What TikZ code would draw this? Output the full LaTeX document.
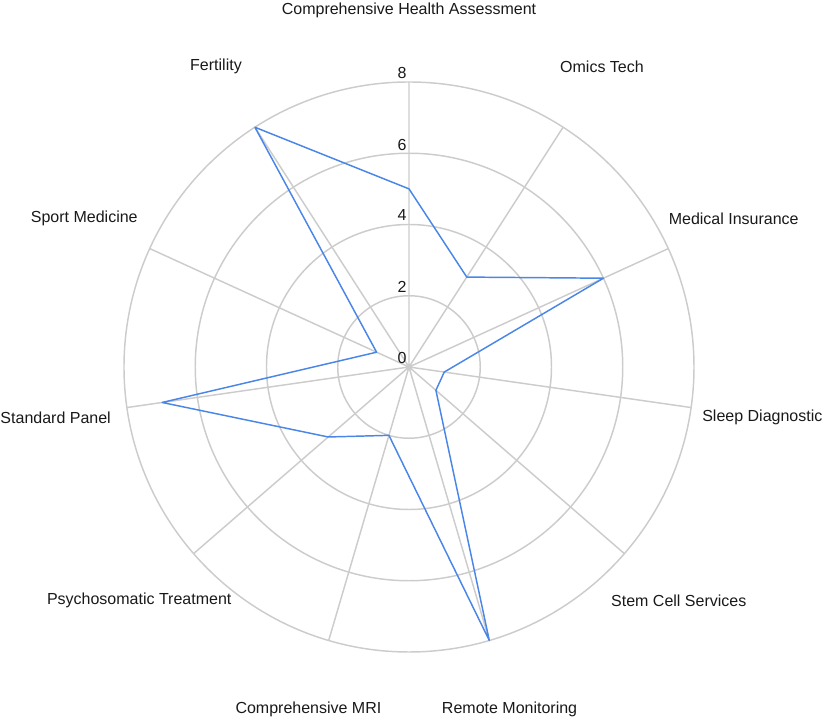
\documentclass[tikz,border=0pt]{standalone}
\usepackage{fontspec}
\setmainfont{Liberation Sans}
\usepackage{tikz}
\usetikzlibrary{positioning}

\definecolor{gridgray}{HTML}{CCCCCC}
\definecolor{serieblue}{HTML}{4A86E8}

\begin{document}
\begin{tikzpicture}[
    x=0.75pt, y=0.75pt,
    grid/.style={draw=gridgray, line width=1.1pt},
    axislabel/.style={font=\fontsize{12}{14}\selectfont, text=black!90, inner sep=0pt},
    ticklabel/.style={font=\fontsize{12}{14}\selectfont, text=black!90, inner sep=0pt},
    serie/.style={draw=serieblue, line width=1.1pt, line join=round},
]
    \useasboundingbox (-409,-353) rectangle (417,367);

    % grid
    \coordinate (c) at (0,0);
    \draw[grid] (c) circle (71.25);
    \draw[grid] (c) circle (142.5);
    \draw[grid] (c) circle (213.75);
    \draw[grid] (c) circle (285);
    \coordinate (o0) at (90:285);
    \coordinate (o1) at (57.273:285);
    \coordinate (o2) at (24.545:285);
    \coordinate (o3) at (-8.182:285);
    \coordinate (o4) at (-40.909:285);
    \coordinate (o5) at (-73.636:285);
    \coordinate (o6) at (-106.364:285);
    \coordinate (o7) at (-139.091:285);
    \coordinate (o8) at (-171.818:285);
    \coordinate (o9) at (155.455:285);
    \coordinate (o10) at (122.727:285);
    \draw[grid] (c) -- (o0) (c) -- (o1) (c) -- (o2) (c) -- (o3) (c) -- (o4) (c) -- (o5)
        (c) -- (o6) (c) -- (o7) (c) -- (o8) (c) -- (o9) (c) -- (o10);

    % scale
    \node[ticklabel] (t0) at (-7,9) {0};
    \node[ticklabel] (t2) at (-7,80) {2};
    \node[ticklabel] (t4) at (-7,151.5) {4};
    \node[ticklabel] (t6) at (-7,222.5) {6};
    \node[ticklabel] (t8) at (-7,294) {8};

    % axis labels
    \node[axislabel] (cha) at (90:357) {Comprehensive Health Assessment};
    \node[axislabel] (omics) at (57.273:357) {Omics Tech};
    \node[axislabel] (insur) at (24.545:357) {Medical Insurance};
    \node[axislabel] (sleep) at (-8.182:357) {Sleep Diagnostic};
    \node[axislabel] (stem) at (-40.909:357) {Stem Cell Services};
    \node[axislabel] (remote) at (-73.636:357) {Remote Monitoring};
    \node[axislabel] (mri) at (-106.364:357) {Comprehensive MRI};
    \node[axislabel] (psycho) at (-139.091:357) {Psychosomatic Treatment};
    \node[axislabel] (panel) at (-171.818:357) {Standard Panel};
    \node[axislabel] (sport) at (155.455:357) {Sport Medicine};
    \node[axislabel] (fert) at (122.727:357) {Fertility};

    % data (1 unit = 35.625)
    \coordinate (d0) at (90:178.125);
    \coordinate (d1) at (57.273:106.875);
    \coordinate (d2) at (24.545:213.75);
    \coordinate (d3) at (-8.182:35.625);
    \coordinate (d4) at (-40.909:35.625);
    \coordinate (d5) at (-73.636:285);
    \coordinate (d6) at (-106.364:71.25);
    \coordinate (d7) at (-139.091:106.875);
    \coordinate (d8) at (-171.818:249.375);
    \coordinate (d9) at (155.455:35.625);
    \coordinate (d10) at (122.727:285);
    \draw[serie] (d0) -- (d1) -- (d2) -- (d3) -- (d4) -- (d5) -- (d6) -- (d7) -- (d8)
        -- (d9) -- (d10) -- cycle;
\end{tikzpicture}
\end{document}
